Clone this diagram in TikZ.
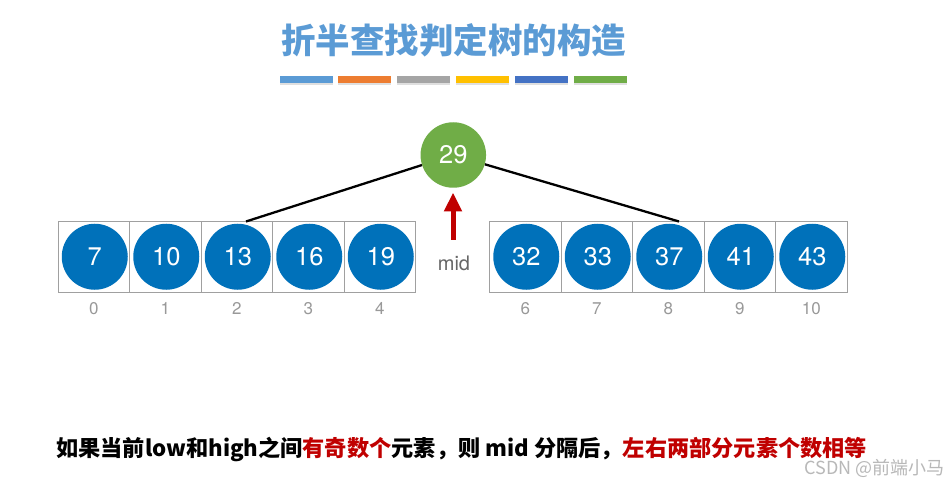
\documentclass[tikz,border=0pt]{standalone}
\usepackage{fontspec}
\setmainfont{TeX Gyre Heros}
\newfontfamily\cjk{Noto Sans CJK SC}
\usetikzlibrary{arrows.meta,shadows}
\definecolor{titleblue}{HTML}{5B9BD5}
\definecolor{barorange}{HTML}{ED7D31}
\definecolor{bargray}{HTML}{A5A5A5}
\definecolor{baryellow}{HTML}{FFC000}
\definecolor{bardblue}{HTML}{4472C4}
\definecolor{bargreen}{HTML}{70AD47}
\definecolor{circblue}{HTML}{0071BA}
\definecolor{darkred}{HTML}{C00000}
\definecolor{cellgray}{HTML}{A0A0A0}
\definecolor{idxgray}{HTML}{999999}
\definecolor{midgray}{HTML}{666666}
\tikzset{
  cellbox/.style={draw=cellgray, line width=0.8pt, minimum width=71.5pt, minimum height=71.5pt, inner sep=0pt},
  ball/.style={circle, fill=circblue, minimum size=66pt, inner sep=0pt, text=white, font=\fontsize{25.5}{25.5}\selectfont},
  rootball/.style={circle, fill=bargreen, minimum size=65.5pt, inner sep=0pt, text=white, font=\fontsize{25.5}{25.5}\selectfont},
  idx/.style={text=idxgray, font=\fontsize{17}{17}\selectfont, inner sep=0pt},
  bar/.style={minimum width=53pt, minimum height=6.5pt, inner sep=0pt, drop shadow={shadow xshift=0pt, shadow yshift=-2pt, opacity=0.25}},
  edge/.style={line width=2.3pt, black}
}
\begin{document}
\begin{tikzpicture}[x=1pt,y=-1pt]
\useasboundingbox (0,0) rectangle (952,486);
\fill[white] (0,0) rectangle (952,486);
% title
\node[text=titleblue, font=\cjk\bfseries\fontsize{34.5}{34.5}\selectfont] (title) at (453.5,40) {折半查找判定树的构造};
\node[bar, fill=titleblue] (b1) at (306.5,79.5) {};
\node[bar, fill=barorange] (b2) at (364,79.5) {};
\node[bar, fill=bargray] (b3) at (423,79.5) {};
\node[bar, fill=baryellow] (b4) at (482,79.5) {};
\node[bar, fill=bardblue] (b5) at (541,79.5) {};
\node[bar, fill=bargreen] (b6) at (600.5,79.5) {};
% cells
\foreach \i/\cx/\v/\k in {0/93.75/7/0, 1/165.25/10/1, 2/236.75/13/2, 3/308.25/16/3, 4/379.75/19/4,
                          5/525.25/32/6, 6/596.75/33/7, 7/668.25/37/8, 8/739.75/41/9, 9/811.25/43/10}{
  \node[cellbox] (c\i) at (\cx,256.75) {};
  \node[ball] (n\i) at (\cx+1,256.75) {\v};
  \node[idx] (i\i) at (\cx,308.5) {\k};
}
% root
\node[rootball] (root) at (453.3,155) {29};
\coordinate (la) at (246,221.5);
\coordinate (ra) at (679,221.5);
\draw[edge] (root) -- (la);
\draw[edge] (root) -- (ra);
% mid arrow
\coordinate (arrbase) at (453,240);
\coordinate (arrtip) at (453,192.5);
\draw[darkred, line width=5pt, -{Triangle[width=17pt,length=19pt]}] (arrbase) -- (arrtip);
\node[text=midgray, font=\fontsize{20}{20}\selectfont] (mid) at (454,263) {mid};
% bottom text
\node[anchor=west, inner sep=0pt, font=\cjk\bfseries\fontsize{22.2}{22.2}\selectfont] (note) at (56,449)
  {如果当前low和high之间\textcolor{darkred}{有奇数个}元素，则 mid 分隔后，\textcolor{darkred}{左右两部分元素个数相等}};
\node[anchor=east, inner sep=0pt, text=black!28, font=\cjk\fontsize{18}{18}\selectfont] (wm) at (945,468) {CSDN @前端小马};
\end{tikzpicture}
\end{document}
